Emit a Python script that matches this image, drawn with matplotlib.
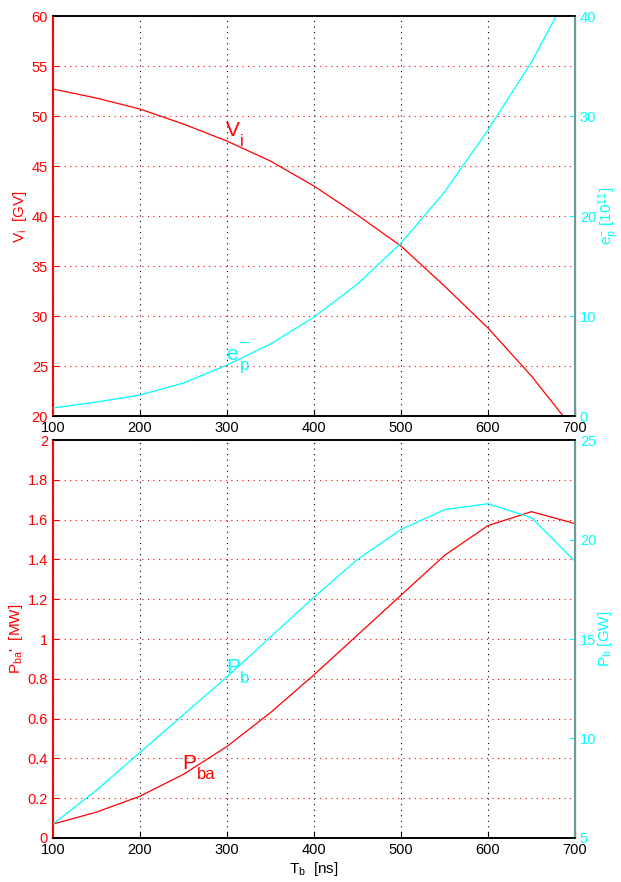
import matplotlib
matplotlib.use("Agg")
import matplotlib.pyplot as plt

plt.rcParams['font.family'] = ['Liberation Sans', 'DejaVu Sans']
plt.rcParams['mathtext.default'] = 'regular'
plt.rcParams['xtick.direction'] = 'in'
plt.rcParams['ytick.direction'] = 'in'

# pulse length T_b [ns]
TB = [100, 150, 200, 250, 300, 350, 400, 450, 500, 550, 600, 650, 700]

# top panel
VI = [52.7, 51.8, 50.7, 49.2, 47.5, 45.5, 43.0, 40.1, 37.0, 33.0, 28.8, 24.0, 18.5]
EP = [0.8, 1.4, 2.1, 3.3, 5.1, 7.2, 9.9, 13.2, 17.3, 22.4, 28.6, 35.4, 43.5]

# bottom panel
PBA = [0.07, 0.13, 0.21, 0.32, 0.46, 0.63, 0.82, 1.02, 1.22, 1.42, 1.57, 1.64, 1.58]
PB = [5.7, 7.4, 9.3, 11.2, 13.1, 15.1, 17.1, 19.0, 20.5, 21.5, 21.8, 21.1, 18.9]

RED = '#ff0000'
CYAN = '#00ffff'

fig = plt.figure(figsize=(6.21, 8.82), dpi=100)


def style_axes(ax, ax2):
    ax.set_xlim(100, 700)
    ax.set_xticks(range(100, 701, 100))
    ax.tick_params(axis='x', colors='black', labelsize=10.5, length=4)
    ax.tick_params(axis='y', colors=RED, labelsize=10.5, length=4)
    ax2.tick_params(axis='y', colors=CYAN, labelsize=10.5, length=4)
    ax.grid(axis='x', color='black', linestyle=(0, (1, 4)), linewidth=0.8)
    ax.grid(axis='y', color=RED, linestyle=(0, (1, 4)), linewidth=0.8)
    ax.spines['left'].set_color(RED)
    ax.spines['left'].set_linewidth(1.5)
    ax2.spines['left'].set_visible(False)
    ax2.spines['right'].set_color('#6a9a9a')
    ax2.spines['right'].set_linewidth(1.5)
    for a in (ax, ax2):
        a.spines['top'].set_linewidth(1.2)
        a.spines['bottom'].set_linewidth(1.2)
    ax.set_axisbelow(True)


def tag(ax, x, y, main, sub, color, sup=None):
    # big letter with a low, MATLAB-like subscript
    ax.annotate(main, (x, y), color=color, fontsize=15)
    ax.annotate(sub, (x, y), xytext=(10, -7), textcoords='offset points',
                color=color, fontsize=12)
    if sup:
        ax.annotate(sup, (x, y), xytext=(10, 9), textcoords='offset points',
                    color=color, fontsize=12)


# top
ax1 = fig.add_axes([0.0853, 0.5283, 0.8406, 0.4535])
ax1b = ax1.twinx()
ax1.plot(TB, VI, color=RED, linewidth=0.9)
ax1b.plot(TB, EP, color=CYAN, linewidth=0.9)
ax1.set_ylim(20, 60)
ax1.set_yticks(range(20, 61, 5))
ax1b.set_ylim(0, 40)
ax1b.set_yticks(range(0, 41, 10))
style_axes(ax1, ax1b)
ax1.set_ylabel('V$_i$  [GV]', color=RED, fontsize=11, labelpad=2)
ax1b.set_ylabel('e$_p^{-}$ [10$^{11}$]', color=CYAN, fontsize=11, labelpad=0)
tag(ax1, 299, 48.0, 'V', 'i', RED)
tag(ax1b, 299, 5.6, 'e', 'p', CYAN, sup='\u2013')

# bottom
ax2 = fig.add_axes([0.0853, 0.0499, 0.8406, 0.4512])
ax2b = ax2.twinx()
ax2.plot(TB, PBA, color=RED, linewidth=0.9)
ax2b.plot(TB, PB, color=CYAN, linewidth=0.9)
ax2.set_ylim(0, 2)
ax2.set_yticks([0, 0.2, 0.4, 0.6, 0.8, 1, 1.2, 1.4, 1.6, 1.8, 2])
ax2.set_yticklabels(['0', '0.2', '0.4', '0.6', '0.8', '1', '1.2', '1.4', '1.6', '1.8', '2'])
ax2b.set_ylim(5, 25)
ax2b.set_yticks(range(5, 26, 5))
style_axes(ax2, ax2b)
ax2.set_ylabel("P$_{ba}$'  [MW]", color=RED, fontsize=11, labelpad=2)
ax2b.set_ylabel('P$_b$ [GW]', color=CYAN, fontsize=11, labelpad=0)
ax2.set_xlabel('T$_b$  [ns]', fontsize=11, labelpad=2)
tag(ax2, 249, 0.345, 'P', 'ba', RED)
tag(ax2b, 299, 13.3, 'P', 'b', CYAN)

fig.savefig('out.png', dpi=100)
